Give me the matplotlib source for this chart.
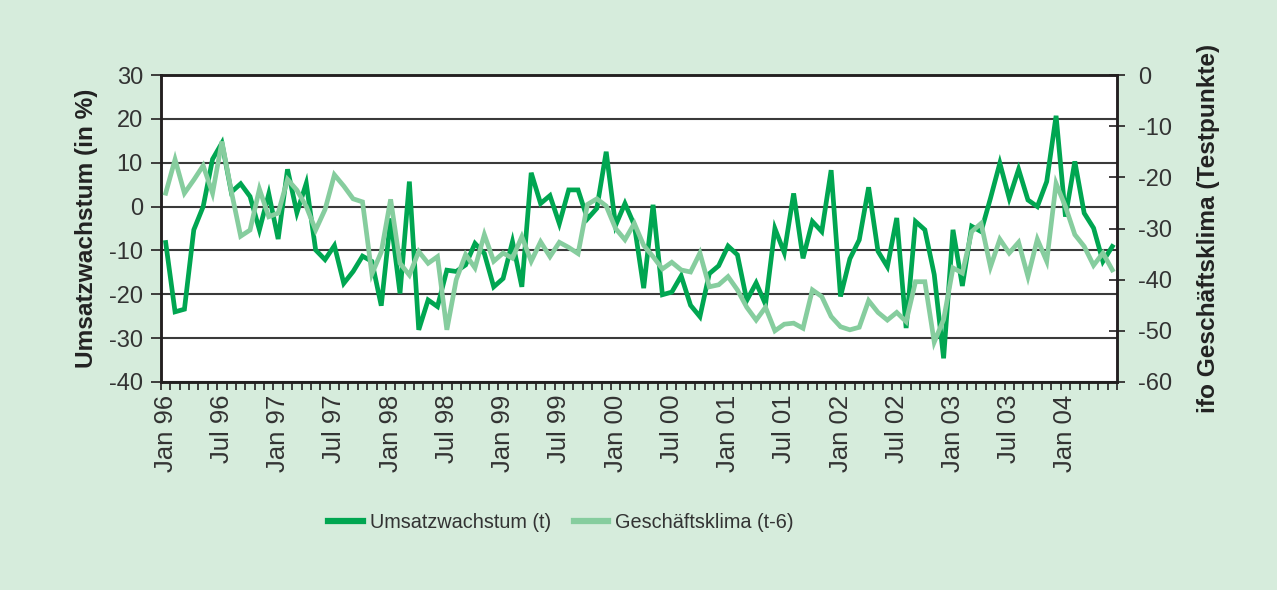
import matplotlib
matplotlib.use("Agg")
import matplotlib.pyplot as plt
from matplotlib import font_manager
import numpy as np

# ---------------- data ----------------
months = list(range(102))  # Jan 96 .. Jun 04
tick_positions = list(range(0, 102, 6))
tick_labels = ["Jan 96", "Jul 96", "Jan 97", "Jul 97", "Jan 98", "Jul 98",
               "Jan 99", "Jul 99", "Jan 00", "Jul 00", "Jan 01", "Jul 01",
               "Jan 02", "Jul 02", "Jan 03", "Jul 03", "Jan 04"]

umsatz = [-8.2, -24.0, -23.4, -5.3, 0.0, 10.8, 14.5, 3.3, 5.2, 2.3,
          -5.3, 2.9, -7.4, 8.5, -1.4, 5.3, -9.9, -12.1, -8.9, -17.5,
          -14.8, -11.3, -12.5, -22.6, -2.7, -19.8, 5.7, -28.1, -21.3, -22.8,
          -14.5, -14.8, -13.3, -8.4, -10.7, -18.3, -16.4, -8.0, -18.3, 7.7,
          0.7, 2.5, -3.9, 3.8, 3.8, -2.8, -0.4, 12.5, -4.3, 0.7,
          -4.2, -18.6, 0.4, -20.1, -19.5, -15.8, -22.5, -25.1, -15.3, -13.5,
          -9.0, -11.0, -21.4, -17.4, -22.3, -5.0, -10.5, 3.0, -11.8, -3.4,
          -5.7, 8.3, -20.5, -11.9, -7.6, 4.4, -10.2, -13.7, -2.6, -27.7,
          -3.4, -5.3, -15.5, -34.6, -5.3, -18.1, -4.5, -5.7, 1.9, 9.9,
          1.9, 8.5, 1.5, 0.0, 5.7, 20.7, -2.3, 10.3, -1.5, -4.9,
          -12.5, -9.1]

klima = [-23.1, -16.5, -23.1, -20.5, -17.7, -23.1, -13.0, -22.7, -31.5, -30.3,
         -22.3, -27.7, -27.0, -20.4, -22.5, -25.7, -30.3, -26.3, -19.5, -21.7,
         -24.2, -24.8, -38.9, -34.6, -24.3, -36.8, -39.1, -34.5, -36.8, -35.5,
         -49.8, -40.0, -35.1, -37.7, -31.2, -36.4, -34.8, -35.8, -31.6, -36.4,
         -32.6, -35.5, -32.7, -33.7, -34.9, -25.3, -24.2, -25.6, -30.0, -32.2,
         -29.0, -33.3, -35.5, -37.9, -36.6, -38.1, -38.5, -34.8, -41.4, -41.0,
         -39.4, -42.0, -45.4, -47.9, -45.4, -50.0, -48.7, -48.5, -49.5, -42.0,
         -43.3, -47.2, -49.2, -49.8, -49.3, -44.1, -46.4, -47.9, -46.4, -48.2,
         -40.4, -40.4, -52.2, -47.8, -37.7, -38.7, -30.6, -29.0, -37.5, -32.1,
         -34.8, -32.7, -39.4, -32.1, -36.4, -21.2, -25.7, -31.2, -33.5, -37.2,
         -34.8, -38.1]

# ---------------- style ----------------
BG = "#d6ecdc"
DARK = "#00a651"
LIGHT = "#86cd9e"
AXC = "#231f20"
TXT = "#333333"
FONT = ["Liberation Sans", "DejaVu Sans"]
plt.rcParams["font.family"] = FONT
plt.rcParams["axes.unicode_minus"] = False

installed = {f.name for f in font_manager.fontManager.ttflist}
if "Liberation Sans Narrow" in installed:
    LEG_FONT = {"family": ["Liberation Sans Narrow", "Liberation Sans"], "size": 16.5}
else:
    LEG_FONT = {"family": ["Liberation Sans", "DejaVu Sans"], "size": 14.3}

fig = plt.figure(figsize=(12.77, 5.90), dpi=100, facecolor=BG)
ax = fig.add_axes([161 / 1277, 1 - 382 / 590, (1117 - 161) / 1277, (382 - 75) / 590])
ax.set_facecolor("white")
ax2 = ax.twinx()

l1, = ax.plot(months, umsatz, color=DARK, lw=3.4, solid_joinstyle="miter",
              label="Umsatzwachstum (t)", zorder=3)
l2, = ax2.plot(months, klima, color=LIGHT, lw=3.4, solid_joinstyle="miter",
               label="Geschäftsklima (t-6)", zorder=3)

ax.set_xlim(-0.5, 101.5)
ax.set_ylim(-40, 30)
ax2.set_ylim(-60, 0)
ax.set_yticks(range(-40, 31, 10))
ax2.set_yticks(range(-60, 1, 10))

ax.yaxis.grid(True, color="#3a3a3a", lw=1.5)
ax.set_axisbelow(True)

for a in (ax, ax2):
    for s in a.spines.values():
        s.set_color(AXC)
        s.set_linewidth(1.8)

ax.set_xticks(tick_positions)
ax.set_xticklabels(tick_labels, rotation=90, ha="center", va="top")
ax.set_xticks(np.arange(-0.5, 102, 1), minor=True)
ax.tick_params(axis="x", which="major", length=0, pad=9, labelsize=18.5, labelcolor=TXT)
ax.tick_params(axis="x", which="minor", length=6, width=1.2, color=AXC, direction="out")
ax.tick_params(axis="y", length=7, width=1.2, color=AXC, direction="out",
               labelsize=17, labelcolor=TXT, pad=6)
ax2.tick_params(axis="y", length=12, width=1.2, color=AXC, direction="inout",
                labelsize=17, labelcolor=TXT, pad=9)

ax.set_ylabel("Umsatzwachstum (in %)", fontsize=17.6, fontweight="bold", color="#222222",
              labelpad=8)
ax2.set_ylabel("ifo Geschäftsklima (Testpunkte)", fontsize=17.6, fontweight="bold",
               color="#222222", labelpad=18)

leg = fig.legend(handles=[l1, l2], loc="center", bbox_to_anchor=(561 / 1277, 1 - 522 / 590),
                 ncol=2, frameon=False, prop=LEG_FONT, handlelength=1.75,
                 handletextpad=0.35, columnspacing=1.15)
for t in leg.get_texts():
    t.set_color(TXT)
for h in leg.legend_handles:
    h.set_linewidth(4.5)

fig.savefig("out.png", dpi=100, facecolor=BG)
